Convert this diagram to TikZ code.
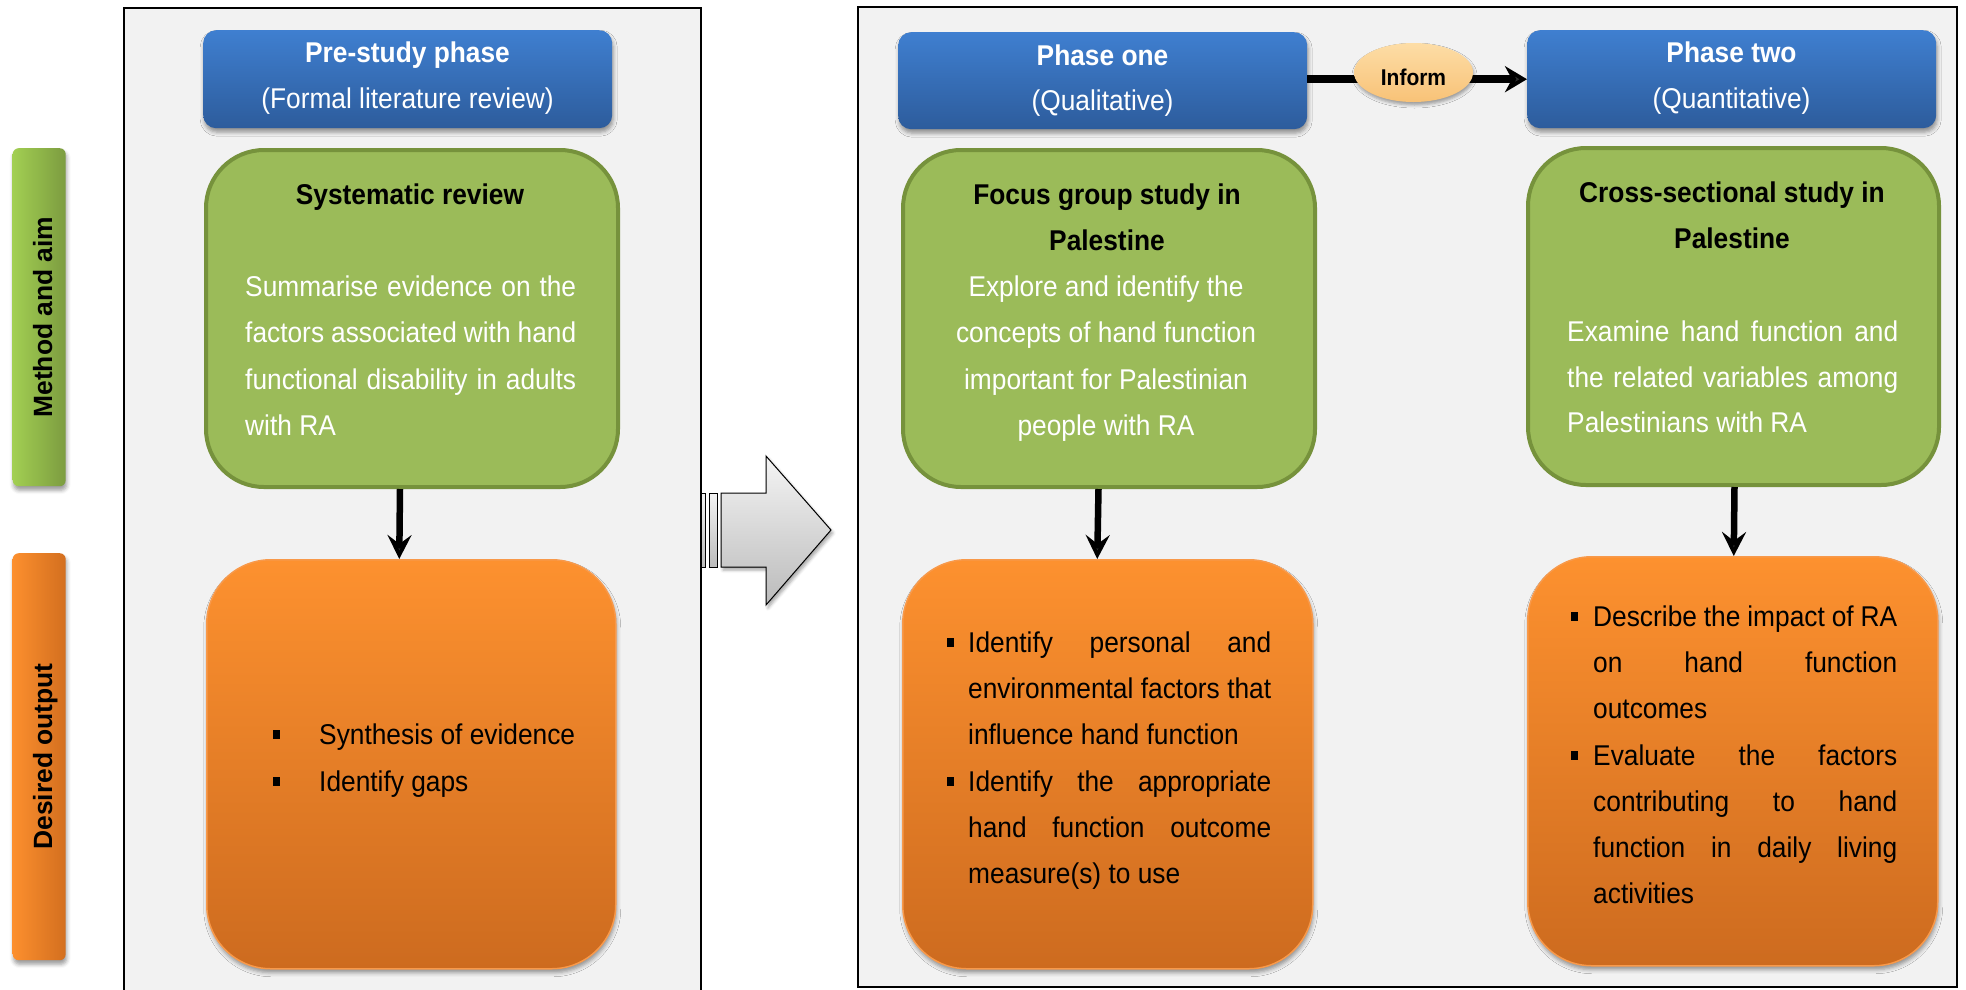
\documentclass[tikz,border=0pt]{standalone}
\usepackage{fontspec}
\setmainfont[FakeStretch=0.92]{Liberation Sans}
\newfontfamily\tabfont{Liberation Sans}
\usetikzlibrary{arrows.meta,shapes.geometric,shadows.blur}

\definecolor{panelbg}{HTML}{F2F2F2}
\definecolor{bluetop}{HTML}{3F7FD0}
\definecolor{bluebot}{HTML}{2D5C9C}
\definecolor{greenfill}{HTML}{9BBB59}
\definecolor{greenline}{HTML}{76923C}
\definecolor{orangetop}{HTML}{FD912F}
\definecolor{orangebot}{HTML}{CD6B1F}
\definecolor{orangeline}{HTML}{F8994A}
\definecolor{informtop}{HTML}{FDDDA6}
\definecolor{informbot}{HTML}{F8C277}
\definecolor{tabgreenL}{HTML}{A2CF52}
\definecolor{tabgreenR}{HTML}{7C9C40}
\definecolor{taborangeL}{HTML}{FC8F2E}
\definecolor{taborangeR}{HTML}{D36F1F}
\definecolor{arrowtop}{HTML}{F4F4F4}
\definecolor{arrowbot}{HTML}{BBBBBB}

\newcommand{\jline}[2]{\makebox[#1][s]{#2}}

\begin{document}
\begin{tikzpicture}[x=1pt,y=-1pt,
  panel/.style={draw=black, line width=1.6pt, fill=panelbg},
  softshadow/.style={blur shadow={shadow xshift=1pt, shadow yshift=-4pt,
      shadow blur radius=4pt, shadow opacity=40}},
  header/.style={rounded corners=13pt, top color=bluetop, bottom color=bluebot,
      draw=none, inner sep=0pt, anchor=north west, softshadow},
  aimbox/.style={rounded corners=58pt, fill=greenfill, draw=greenline,
      line width=4pt, inner sep=0pt, anchor=north west},
  outbox/.style={rounded corners=64pt, top color=orangetop, bottom color=orangebot,
      draw=orangeline, line width=1.5pt, inner sep=0pt, anchor=north west, softshadow},
  tabbox/.style={rounded corners=6pt, draw=none, inner sep=0pt, anchor=north west,
      minimum width=53pt, softshadow},
  tabtxt/.style={inner sep=0pt, anchor=base, rotate=90,
      font=\tabfont\fontsize{26.4}{30}\selectfont\bfseries},
  txt/.style={inner sep=0pt, anchor=base west, font=\fontsize{28.6}{30}\selectfont},
  ctxt/.style={txt, anchor=base},
  btxt/.style={inner sep=0pt, anchor=base, font=\fontsize{28.6}{30}\selectfont\bfseries},
  wtxt/.style={txt, text=white},
  wctxt/.style={ctxt, text=white},
  bullet/.style={fill=black},
  flow/.style={line width=6.5pt, -{Stealth[length=24pt,width=24pt,inset=9pt]}},
  informarrow/.style={line width=8pt, -{Stealth[length=22pt,width=26pt,inset=7pt]}}
]
\useasboundingbox (0,0) rectangle (1966,989);

% study panels
\filldraw[panel] (124,8) rectangle (701,995);
\filldraw[panel] (858,7) rectangle (1957,987);

% side tabs
\node[tabbox, minimum height=338pt, left color=tabgreenL, right color=tabgreenR] (tabaim) at (12.5,148) {};
\node[tabtxt] (tabaim-text) at (52,317) {Method and aim};
\node[tabbox, minimum height=407pt, left color=taborangeL, right color=taborangeR] (tabout) at (12.5,553) {};
\node[tabtxt] (tabout-text) at (52,756.5) {Desired output};

% transition arrow between the panels
\filldraw[top color=arrowtop, bottom color=arrowbot, draw=black, line width=1pt,
  blur shadow={shadow xshift=2pt, shadow yshift=-3pt, shadow blur radius=3pt, shadow opacity=35}]
  (721,493) -- (766,493) -- (766,456) -- (831,530) -- (766,605) -- (766,567) -- (721,567) -- cycle;
\filldraw[top color=arrowtop, bottom color=arrowbot, draw=black, line width=1pt] (701,493) rectangle (705,567);
\filldraw[top color=arrowtop, bottom color=arrowbot, draw=black, line width=1pt] (709,493) rectangle (717,567);

% phase headers
\node[header, minimum width=409pt, minimum height=98pt] (p0) at (203,30) {};
\node[btxt, text=white] (p0-title) at (407.5,62.5) {Pre-study phase};
\node[wctxt] (p0-sub) at (407.5,108.5) {(Formal literature review)};

\node[header, minimum width=409pt, minimum height=97pt] (p1) at (898,32) {};
\node[btxt, text=white] (p1-title) at (1102.5,65) {Phase one};
\node[wctxt] (p1-sub) at (1102.5,110.5) {(Qualitative)};

\node[header, minimum width=409pt, minimum height=98pt] (p2) at (1527,30) {};
\node[btxt, text=white] (p2-title) at (1731.5,62.5) {Phase two};
\node[wctxt] (p2-sub) at (1731.5,108.5) {(Quantitative)};

% phase one informs phase two
\draw[informarrow] (p1.east |- p2.west) -- (p2.west);
\node[ellipse, minimum width=119pt, minimum height=59pt, inner sep=0pt,
  top color=informtop, bottom color=informbot,
  blur shadow={shadow xshift=1pt, shadow yshift=-3pt, shadow blur radius=3pt, shadow opacity=35}]
  (inform) at (1413.5,72.5) {};
\node[inner sep=0pt, anchor=base, font=\fontsize{22.8}{24}\selectfont\bfseries] (inform-text) at (1413.5,85) {Inform};

% method and aim boxes
\node[aimbox, minimum width=412pt, minimum height=337pt] (sr) at (204,148) {};
\node[btxt] (sr-title) at (410,204.5) {Systematic review};
\node[wtxt] (sr-1) at (245,296.5) {\jline{331pt}{Summarise evidence on the}};
\node[wtxt] (sr-2) at (245,342.8) {\jline{331pt}{factors associated with hand}};
\node[wtxt] (sr-3) at (245,389.1) {\jline{331pt}{functional disability in adults}};
\node[wtxt] (sr-4) at (245,435.4) {with RA};

\node[aimbox, minimum width=412pt, minimum height=337pt] (fg) at (901,148) {};
\node[btxt] (fg-title1) at (1107,204.5) {Focus group study in};
\node[btxt] (fg-title2) at (1107,250.5) {Palestine};
\node[wctxt] (fg-1) at (1106,296.5) {Explore and identify the};
\node[wctxt] (fg-2) at (1106,342.8) {concepts of hand function};
\node[wctxt] (fg-3) at (1106,389.1) {important for Palestinian};
\node[wctxt] (fg-4) at (1106,435.4) {people with RA};

\node[aimbox, minimum width=411pt, minimum height=337pt] (cs) at (1526,146) {};
\node[btxt] (cs-title1) at (1732,202.5) {Cross-sectional study in};
\node[btxt] (cs-title2) at (1732,248.5) {Palestine};
\node[wtxt] (cs-1) at (1567,341.5) {\jline{331pt}{Examine hand function and}};
\node[wtxt] (cs-2) at (1567,387) {\jline{331pt}{the related variables among}};
\node[wtxt] (cs-3) at (1567,432.5) {Palestinians with RA};

% desired output boxes
\node[outbox, minimum width=409pt, minimum height=409pt] (so) at (206,559) {};
\fill[bullet] (273,730) rectangle (280,739);
\node[txt] (so-1) at (319,744.5) {Synthesis of evidence};
\fill[bullet] (273,776.5) rectangle (280,785.5);
\node[txt] (so-2) at (319,791) {Identify gaps};

\node[outbox, minimum width=410pt, minimum height=409pt] (fo) at (902,559) {};
\fill[bullet] (947,638) rectangle (954,647);
\node[txt] (fo-1) at (968,652.5) {\jline{303pt}{Identify personal and}};
\node[txt] (fo-2) at (968,698.7) {\jline{303pt}{environmental factors that}};
\node[txt] (fo-3) at (968,744.9) {influence hand function};
\fill[bullet] (947,776.6) rectangle (954,785.6);
\node[txt] (fo-4) at (968,791.1) {\jline{303pt}{Identify the appropriate}};
\node[txt] (fo-5) at (968,837.3) {\jline{303pt}{hand function outcome}};
\node[txt] (fo-6) at (968,883.5) {measure(s) to use};

\node[outbox, minimum width=410pt, minimum height=409pt] (co) at (1527,556) {};
\fill[bullet] (1571,612) rectangle (1578,621);
\node[txt] (co-1) at (1593,626.5) {\jline{304pt}{Describe the impact of RA}};
\node[txt] (co-2) at (1593,672.7) {\jline{304pt}{on hand function}};
\node[txt] (co-3) at (1593,718.9) {outcomes};
\fill[bullet] (1571,750.6) rectangle (1578,759.6);
\node[txt] (co-4) at (1593,765.1) {\jline{304pt}{Evaluate the factors}};
\node[txt] (co-5) at (1593,811.3) {\jline{304pt}{contributing to hand}};
\node[txt] (co-6) at (1593,857.5) {\jline{304pt}{function in daily living}};
\node[txt] (co-7) at (1593,903.7) {activities};

% aim to output arrows
\draw[flow] ([xshift=-12pt]sr.south) -- ([xshift=-12pt]so.north);
\draw[flow] ([xshift=-10.5pt]fg.south) -- ([xshift=-10.5pt]fo.north);
\draw[flow] ([xshift=1pt]cs.south) -- ([xshift=1pt]co.north);
\end{tikzpicture}
\end{document}
